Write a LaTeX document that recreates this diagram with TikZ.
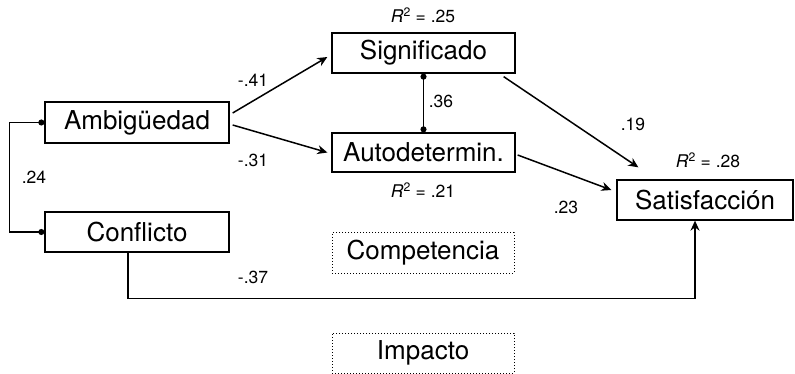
\documentclass[tikz,border=0pt]{standalone}
\usepackage{fontspec}
\setmainfont{TeX Gyre Heros}
\usetikzlibrary{arrows.meta,calc}
\begin{document}
\begin{tikzpicture}[x=1pt,y=-1pt,
  box/.style={draw,line width=1.3pt,minimum width=183pt,minimum height=40pt,inner sep=0pt,font=\fontsize{26}{30}\selectfont},
  dbox/.style={draw,dotted,line width=1pt,minimum width=182pt,minimum height=40pt,inner sep=0pt,font=\fontsize{26}{30}\selectfont},
  lbl/.style={font=\fontsize{17.5}{19}\selectfont,inner sep=0pt},
  arr/.style={line width=1.5pt,-{Stealth[length=10pt,width=9pt]}},
  cor/.style={line width=1.5pt,{Circle[length=6pt]}-{Circle[length=6pt]}}]
\useasboundingbox (0,0) rectangle (795,374);
\node[box,minimum width=184pt,minimum height=41pt] (amb) at (137,122.5) {Ambigüedad};
\node[box,minimum width=184pt] (conf) at (137,232) {Conflicto};
\node[box] (sig) at (423.5,53) {Significado};
\node[box,minimum height=39pt] (aut) at (423.5,152.5) {Autodetermin.};
\node[box,minimum width=176pt] (sat) at (705,200) {Satisfacción};
\node[dbox] (comp) at (423,253) {Competencia};
\node[dbox] (imp) at (423,353) {Impacto};
\draw[arr] ([xshift=3pt,yshift=9.5pt]amb.east) -- ([xshift=-4pt,yshift=-4pt]sig.west);
\draw[arr] ([xshift=3pt,yshift=-2.5pt]amb.east) -- ([xshift=-4pt]aut.west);
\draw[arr] ([xshift=-12pt,yshift=-3pt]sig.south east) -- ([xshift=22pt,yshift=12pt]sat.north west);
\draw[arr] ([xshift=2pt,yshift=-2.5pt]aut.east) -- ([xshift=-5pt,yshift=10pt]sat.west);
\draw[arr] ([xshift=-9pt]conf.south) -- ++(0,46) -| ([xshift=-10pt]sat.south);
\draw[cor] (amb.west) -- ++(-35,0) |- (conf.west);
\draw[cor] (sig.south) -- (aut.north);
\node[lbl] (l1) at (253,80) {-.41};
\node[lbl] (l2) at (253,160) {-.31};
\node[lbl] (l3) at (34,177) {.24};
\node[lbl] (l4) at (441,101) {.36};
\node[lbl] (l5) at (633,124) {.19};
\node[lbl] (l6) at (566,207) {.23};
\node[lbl] (l7) at (253,277) {-.37};
\node[lbl] (r1) at (423,15) {\textit{R}\textsuperscript{2} = .25};
\node[lbl] (r2) at (423,190) {\textit{R}\textsuperscript{2} = .21};
\node[lbl] (r3) at (708,160) {\textit{R}\textsuperscript{2} = .28};
\end{tikzpicture}
\end{document}
